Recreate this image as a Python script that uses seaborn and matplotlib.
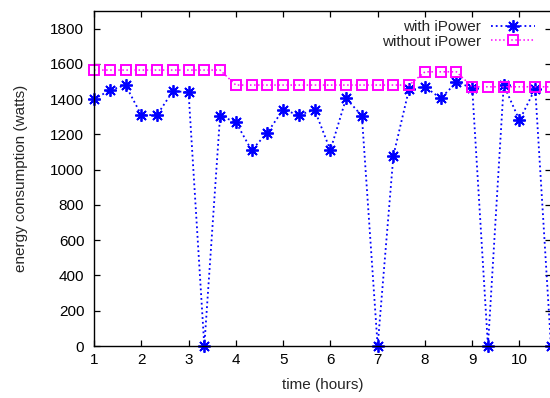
import numpy as np
import pandas as pd
import matplotlib
matplotlib.use("Agg")
import matplotlib.pyplot as plt
import seaborn as sns

# Data (20-minute intervals)
time_hours = [1 + i / 3 for i in range(30)]
with_ipower = [1400, 1450, 1480, 1310, 1310, 1445, 1440, 0, 1305, 1270,
               1110, 1210, 1340, 1310, 1340, 1110, 1405, 1305, 0, 1080,
               1460, 1470, 1405, 1495, 1465, 0, 1480, 1280, 1460, 0]
without_ipower = [1565] * 9 + [1480] * 12 + [1555] * 3 + [1470] * 6
x_ticks = [1, 2, 3, 4, 5, 6, 7, 8, 9, 10]
y_ticks = [0, 200, 400, 600, 800, 1000, 1200, 1400, 1600, 1800]

df = pd.DataFrame({"time": time_hours, "with": with_ipower, "without": without_ipower})

sns.set_style("ticks")
plt.rcParams["font.family"] = ["Liberation Sans", "DejaVu Sans"]

fig = plt.figure(figsize=(5.5, 3.98), dpi=100)
ax = fig.add_axes([94 / 550, 52 / 398, (551 - 94) / 550, (346 - 11) / 398])

sns.lineplot(data=df, x="time", y="with", ax=ax, color="#0000ff", linestyle=":",
             linewidth=1.3, marker=(8, 2, 0), markersize=9, markeredgewidth=1.3,
             markeredgecolor="#0000ff", label="with iPower", clip_on=False)
sns.lineplot(data=df, x="time", y="without", ax=ax, color="#ff00ff", linestyle=":",
             linewidth=1.1, marker="s", markersize=7.5, markerfacecolor="none",
             markeredgewidth=1.4, markeredgecolor="#ff00ff", label="without iPower",
             clip_on=False)

ax.set_xlim(1, 10.667)
ax.set_ylim(0, 1900)
ax.set_xticks(x_ticks)
ax.set_yticks(y_ticks)
ax.tick_params(direction="in", length=4, width=0.9, top=True, right=True,
               labelsize=11, colors="black")
ax.tick_params(axis="x", pad=5)
ax.tick_params(axis="y", pad=7)
for s in ax.spines.values():
    s.set_visible(True)
    s.set_linewidth(1.0)
    s.set_color("black")

ax.set_xlabel("time (hours)", fontsize=11, labelpad=8)
ax.set_ylabel("energy consumption (watts)", fontsize=11, labelpad=16)

leg = ax.legend(loc="upper right", bbox_to_anchor=(0.988, 1.005), frameon=False,
                markerfirst=False, fontsize=11, handlelength=2.9, handletextpad=0.6,
                labelspacing=0.05, borderaxespad=0.3)

fig.savefig("out.png", dpi=100)
